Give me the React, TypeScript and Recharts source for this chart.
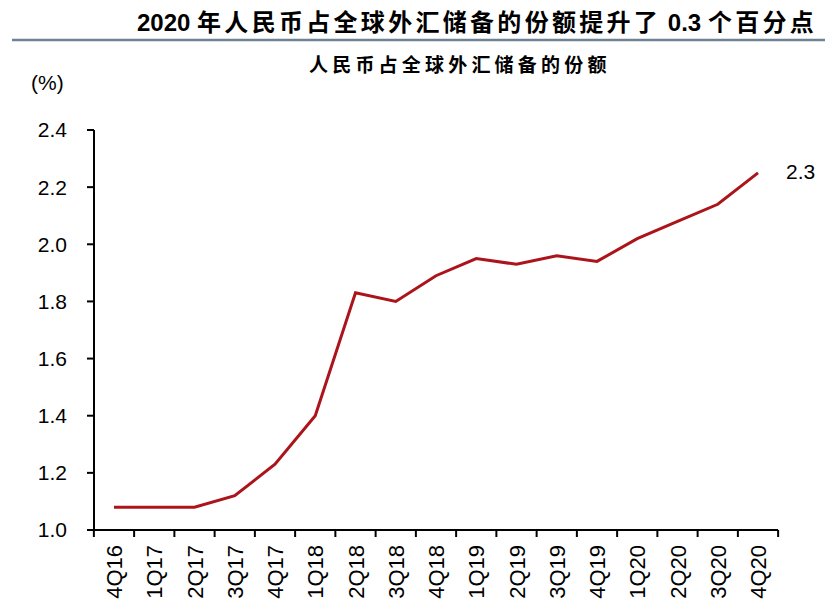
import { LabelList, Line, LineChart, XAxis, YAxis } from "recharts"

// 人民币占全球外汇储备的份额 (%), quarterly
const quarters = [
  "4Q16", "1Q17", "2Q17", "3Q17", "4Q17", "1Q18", "2Q18", "3Q18", "4Q18",
  "1Q19", "2Q19", "3Q19", "4Q19", "1Q20", "2Q20", "3Q20", "4Q20"
]
const shares = [
  1.08, 1.08, 1.08, 1.12, 1.23, 1.4, 1.83, 1.8, 1.89,
  1.95, 1.93, 1.96, 1.94, 2.02, 2.08, 2.14, 2.25
]
const yTicks = [1.0, 1.2, 1.4, 1.6, 1.8, 2.0, 2.2, 2.4]

const data = quarters.map((q, i) => ({ q, share: shares[i] }))

const RED = "#ac141b"
const LATIN = "'Liberation Sans', Arial, sans-serif"
const CJK = "'Noto Sans CJK SC', 'Liberation Sans', sans-serif"
const HALF_STEP = 20.125 // half the category spacing, for boundary tick marks

function XTick(props: any) {
  const { x, y, payload, index } = props
  const last = index === quarters.length - 1
  return (
    <g>
      <line x1={x - HALF_STEP} x2={x - HALF_STEP} y1={y} y2={y + 7} stroke="#000" strokeWidth={2} />
      {last && (
        <line x1={x + HALF_STEP} x2={x + HALF_STEP} y1={y} y2={y + 7} stroke="#000" strokeWidth={2} />
      )}
      <text
        x={0}
        y={0}
        transform={`translate(${x + 8},${y + 15}) rotate(-90)`}
        textAnchor="end"
        fontFamily={LATIN}
        fontSize={22}
        fill="#000"
      >
        {payload.value}
      </text>
    </g>
  )
}

function EndLabel(props: any) {
  const { x, y, index, value } = props
  if (index !== shares.length - 1) return null
  return (
    <text x={x + 28} y={y + 1} dominantBaseline="middle" fontFamily={LATIN} fontSize={21} fill="#000">
      {Number(value).toFixed(1)}
    </text>
  )
}

export default function App() {
  return (
    <div style={{ position: "absolute", left: 0, top: 0, width: 825, height: 610, background: "#fff" }}>
      <svg width={825} height={100} style={{ position: "absolute", left: 0, top: 0 }}>
        <text x={137} y={31} fontWeight={700} fontSize={24} fill="#000">
          <tspan fontFamily={LATIN}>2020 </tspan>
          <tspan fontFamily={CJK} letterSpacing={3.3}>年人民币占全球外汇储备的份额提升了</tspan>
          <tspan fontFamily={LATIN}> 0.3 </tspan>
          <tspan fontFamily={CJK} letterSpacing={3.3}>个百分点</tspan>
        </text>
        <line x1={12} x2={825} y1={40} y2={40} stroke="#6e8294" strokeWidth={2.5} />
        <text
          x={309}
          y={72}
          fontFamily={CJK}
          fontWeight={700}
          fontSize={19}
          letterSpacing={4.2}
          fill="#000"
        >
          人民币占全球外汇储备的份额
        </text>
        <text x={31} y={90} fontFamily={LATIN} fontSize={21} fill="#000">
          (%)
        </text>
      </svg>
      <div style={{ position: "absolute", left: 0, top: 0 }}>
        <LineChart
          width={825}
          height={610}
          data={data}
          margin={{ top: 130, right: 47, bottom: 0, left: 0 }}
        >
          <XAxis
            dataKey="q"
            type="category"
            scale="point"
            padding={{ left: 20, right: 20 }}
            height={80}
            interval={0}
            tickLine={false}
            tickSize={0}
            tickMargin={0}
            axisLine={{ stroke: "#000", strokeWidth: 2 }}
            tick={<XTick />}
          />
          <YAxis
            type="number"
            domain={[1.0, 2.4]}
            ticks={yTicks}
            width={94}
            interval={0}
            tickSize={7}
            tickMargin={20}
            tickLine={{ stroke: "#000", strokeWidth: 2 }}
            axisLine={{ stroke: "#000", strokeWidth: 2 }}
            tickFormatter={(v: number) => v.toFixed(1)}
            tick={{ fill: "#000", fontSize: 21, fontFamily: LATIN }}
          />
          <Line
            dataKey="share"
            stroke={RED}
            strokeWidth={3}
            dot={false}
            isAnimationActive={false}
          >
            <LabelList dataKey="share" content={<EndLabel />} />
          </Line>
        </LineChart>
      </div>
    </div>
  )
}
